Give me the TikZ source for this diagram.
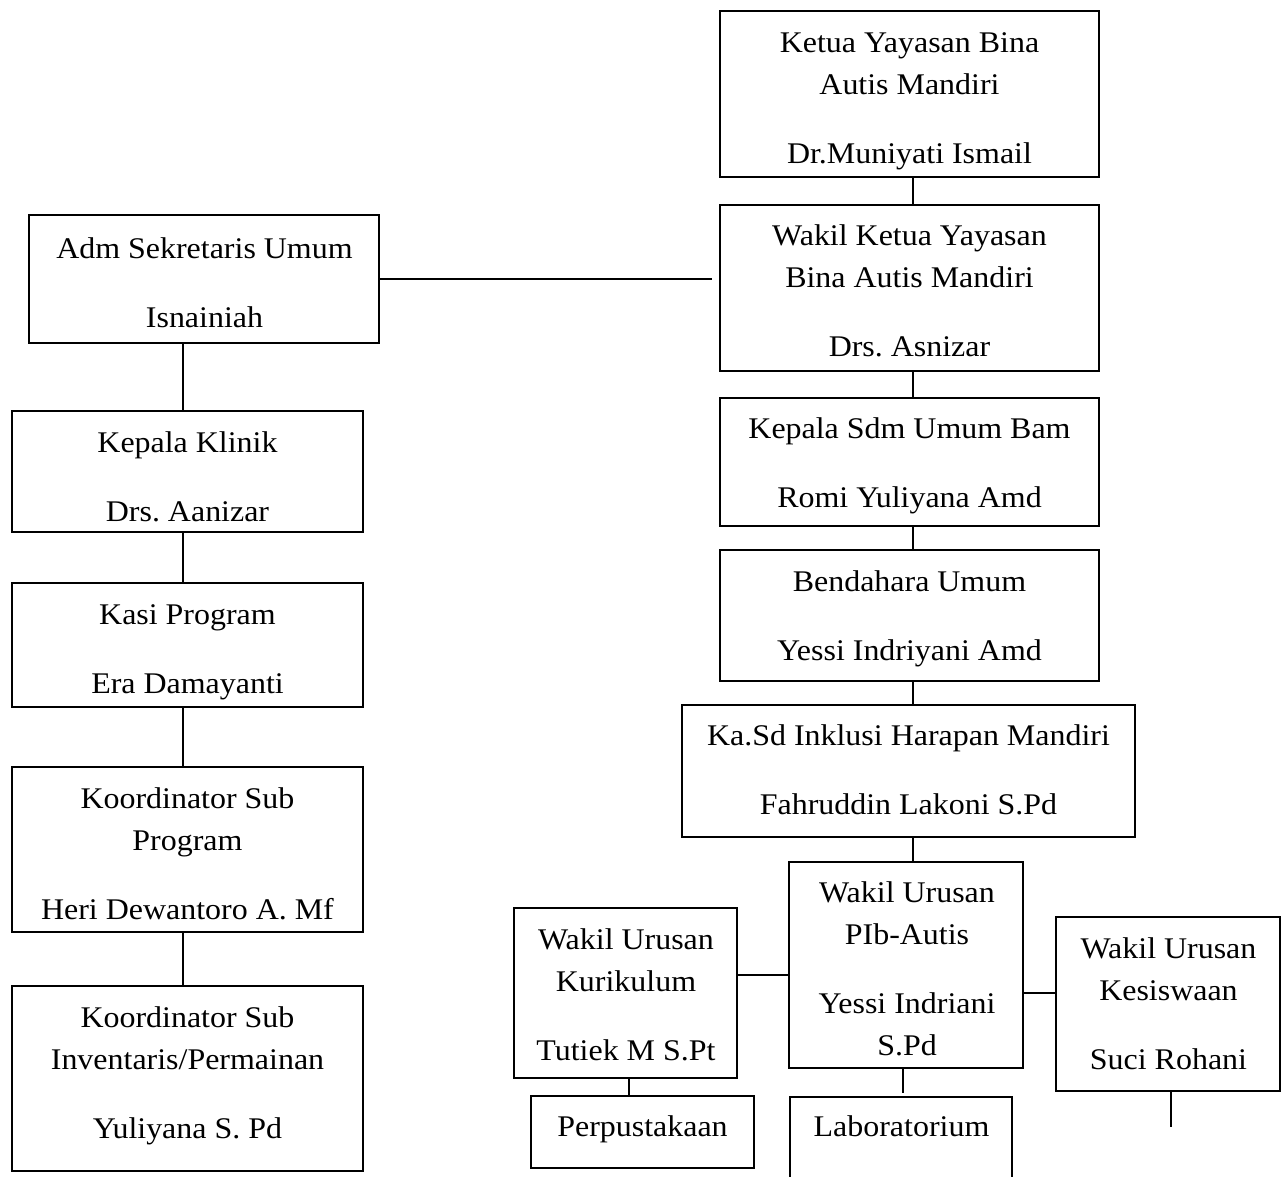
\documentclass[tikz,border=0pt]{standalone}
\usepackage{fontspec}
\setmainfont{Liberation Serif}[FakeStretch=1.065]
\frenchspacing
\begin{document}
\begin{tikzpicture}[x=1pt,y=-1pt,
  box/.style={draw, line width=1.8pt, inner sep=0pt},
  openbox/.style={inner sep=0pt},
  txt/.style={anchor=north, inner sep=0pt, align=center, font=\fontsize{30}{42}\selectfont\frenchspacing},
  conn/.style={line width=1.3pt}]
\useasboundingbox (0,0) rectangle (1281,1176);
\newcommand{\fl}{\rule{0pt}{21pt}}
% right column boxes
\node[box, minimum width=379pt, minimum height=166pt] (ketua) at (909.5,94) {};
\node[box, minimum width=379pt, minimum height=166pt] (wakil) at (909.5,288) {};
\node[box, minimum width=379pt, minimum height=128pt] (sdm) at (909.5,462) {};
\node[box, minimum width=379pt, minimum height=131pt] (bend) at (909.5,615.5) {};
\node[box, minimum width=453pt, minimum height=132pt] (kasd) at (908.5,771) {};
\node[box, minimum width=234pt, minimum height=206pt] (pib) at (906,965) {};
\node[box, minimum width=223pt, minimum height=170pt] (kur) at (625.5,993) {};
\node[box, minimum width=224pt, minimum height=174pt] (kes) at (1168,1004) {};
\node[box, minimum width=223pt, minimum height=72pt] (perp) at (642.5,1132) {};
\node[openbox, minimum width=222pt, minimum height=80pt] (lab) at (901,1137) {};
\draw[line width=1.8pt] (lab.south west) -- (lab.north west) -- (lab.north east) -- (lab.south east);
% left column boxes
\node[box, minimum width=350pt, minimum height=128pt] (adm) at (204,279) {};
\node[box, minimum width=351pt, minimum height=121pt] (klinik) at (187.5,471.5) {};
\node[box, minimum width=351pt, minimum height=124pt] (kasi) at (187.5,645) {};
\node[box, minimum width=351pt, minimum height=165pt] (ksub) at (187.5,849.5) {};
\node[box, minimum width=351pt, minimum height=185pt] (inv) at (187.5,1078.5) {};
% texts
\node[txt] (tketua) at (909.5,31) {\fl Ketua Yayasan Bina\\Autis Mandiri\\[27pt]Dr.Muniyati Ismail};
\node[txt] (twakil) at (909.5,224) {\fl Wakil Ketua Yayasan\\Bina Autis Mandiri\\[27pt]Drs. Asnizar};
\node[txt] (tsdm) at (909.5,417) {\fl Kepala Sdm Umum Bam\\[27pt]Romi Yuliyana Amd};
\node[txt] (tbend) at (909.5,570) {\fl Bendahara Umum\\[27pt]Yessi Indriyani Amd};
\node[txt] (tkasd) at (908.5,724) {\fl Ka.Sd Inklusi Harapan Mandiri\\[27pt]Fahruddin Lakoni S.Pd};
\node[txt] (tpib) at (907,881) {\fl Wakil Urusan\\PIb-Autis\\[27pt]Yessi Indriani\\S.Pd};
\node[txt] (tkur) at (626,928) {\fl Wakil Urusan\\Kurikulum\\[27pt]Tutiek M S.Pt};
\node[txt] (tkes) at (1168.5,937) {\fl Wakil Urusan\\Kesiswaan\\[27pt]Suci Rohani};
\node[txt] (tperp) at (642.5,1115) {\fl Perpustakaan};
\node[txt] (tlab) at (901.5,1115) {\fl Laboratorium};
\node[txt] (tadm) at (204.5,237) {\fl Adm Sekretaris Umum\\[27pt]Isnainiah};
\node[txt] (tklinik) at (187.5,431) {\fl Kepala Klinik\\[27pt]Drs. Aanizar};
\node[txt] (tkasi) at (187.5,603) {\fl Kasi Program\\[27pt]Era Damayanti};
\node[txt] (tksub) at (187.5,787) {\fl Koordinator Sub\\Program\\[27pt]Heri Dewantoro A. Mf};
\node[txt] (tinv) at (187.5,1006) {\fl Koordinator Sub\\Inventaris/Permainan\\[27pt]Yuliyana S. Pd};
% helper coordinates
\coordinate (vR) at (913,0);
\coordinate (vL) at (183,0);
\coordinate (hK) at (0,975);
\coordinate (hS) at (0,993);
\coordinate (vP) at (629,0);
\coordinate (vLab) at (903,0);
\coordinate (vKes) at (1171,0);
\coordinate (admEnd) at (712,279);
\coordinate (pibEnd) at (903,1093);
\coordinate (kesEnd) at (1171,1127);
% connectors right column
\draw[conn] (ketua.south -| vR) -- (wakil.north -| vR);
\draw[conn] (wakil.south -| vR) -- (sdm.north -| vR);
\draw[conn] (sdm.south -| vR) -- (bend.north -| vR);
\draw[conn] (bend.south -| vR) -- (kasd.north -| vR);
\draw[conn] (kasd.south -| vR) -- (pib.north -| vR);
\draw[conn] (kur.east |- hK) -- (pib.west |- hK);
\draw[conn] (pib.east |- hS) -- (kes.west |- hS);
\draw[conn] (kur.south -| vP) -- (perp.north -| vP);
\draw[conn] (pib.south -| vLab) -- (pibEnd);
\draw[conn] (kes.south -| vKes) -- (kesEnd);
% connectors left column
\draw[conn] (adm.east) -- (admEnd);
\draw[conn] (adm.south -| vL) -- (klinik.north -| vL);
\draw[conn] (klinik.south -| vL) -- (kasi.north -| vL);
\draw[conn] (kasi.south -| vL) -- (ksub.north -| vL);
\draw[conn] (ksub.south -| vL) -- (inv.north -| vL);
\end{tikzpicture}
\end{document}
